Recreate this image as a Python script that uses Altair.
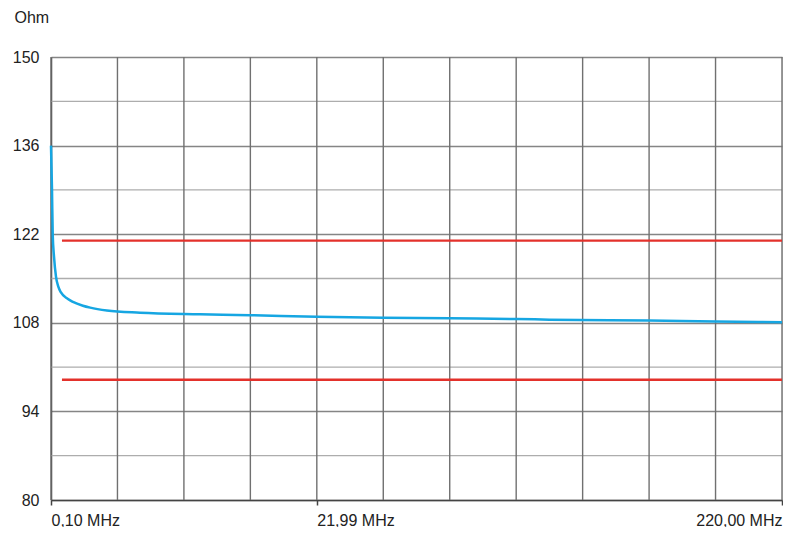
import altair as alt
import pandas as pd

# grid position (0..11 divisions) and impedance (Ohm)
x_pos = [0, 0.015, 0.026, 0.045, 0.075, 0.11, 0.15, 0.25, 0.33, 0.48, 0.59, 0.84,
         1.34, 2.24, 3.0, 4.0, 5.0, 6.0, 7.0, 7.5, 9.0, 10.0, 11.0]
ohm = [136.0, 129.0, 121.9, 118.5, 115.3, 113.7, 112.8, 111.8, 111.3, 110.7, 110.4, 109.95,
       109.6, 109.35, 109.2, 108.95, 108.8, 108.7, 108.6, 108.5, 108.35, 108.2, 108.1]

limit_values = [121, 99]
limit_start = 0.165
limit_end = 11

tick_pos = [0, 4, 11]
tick_labels = ["0,10 MHz", "21,99 MHz", "220,00 MHz"]
vgrid = list(range(0, 12))
y_major = [80, 94, 108, 122, 136, 150]
y_minor = [87, 101, 115, 129, 143]

FONT = "Liberation Sans"

line_df = pd.DataFrame({"x": x_pos, "ohm": ohm})
limits_df = pd.DataFrame({"y": limit_values, "x": [limit_start] * 2, "x2": [limit_end] * 2})
vgrid_df = pd.DataFrame({"x": vgrid})
minor_df = pd.DataFrame({"y": y_minor})

label_map = "{" + ",".join(f"'{p}':'{l}'" for p, l in zip(tick_pos, tick_labels)) + "}"

xscale = alt.Scale(domain=[0, 11], nice=False, zero=False)
yscale = alt.Scale(domain=[80, 150], nice=False, zero=False)

x_axis = alt.Axis(
    values=tick_pos,
    labelExpr=f"{label_map}[datum.value + '']",
    grid=False,
    ticks=True,
    tickSize=5,
    tickColor="#444444",
    tickWidth=1.5,
    domainColor="#444444",
    domainWidth=1.5,
    labelAlign={"condition": {"test": "datum.value == 11", "value": "right"}, "value": "left"},
    labelBaseline="top",
    labelPadding=7,
    labelFontSize=16,
    labelFont=FONT,
    labelColor="#222222",
    title=None,
)

y_axis = alt.Axis(
    values=y_major,
    grid=True,
    gridColor="#858585",
    gridWidth=1.3,
    ticks=False,
    domainColor="#444444",
    domainWidth=1.5,
    labelPadding=12,
    labelFontSize=16,
    labelFont=FONT,
    labelColor="#222222",
    title="Ohm",
    titleAngle=0,
    titleAlign="left",
    titleBaseline="alphabetic",
    titleX=-37,
    titleY=-35,
    titleFont=FONT,
    titleFontSize=16,
    titleFontWeight="normal",
    titleColor="#222222",
)

minor = alt.Chart(minor_df).mark_rule(color="#adadad", strokeWidth=1.3).encode(
    y=alt.Y("y:Q", scale=yscale, axis=y_axis)
)

vlines = alt.Chart(vgrid_df).mark_rule(color="#707070", strokeWidth=1.4).encode(
    x=alt.X("x:Q", scale=xscale, axis=x_axis)
)

limits = alt.Chart(limits_df).mark_rule(color="#e3312b", strokeWidth=2.3).encode(
    x=alt.X("x:Q", scale=xscale),
    x2="x2:Q",
    y=alt.Y("y:Q", scale=yscale),
)

curve = alt.Chart(line_df).mark_line(color="#16a6e2", strokeWidth=2.5, interpolate="monotone").encode(
    x=alt.X("x:Q", scale=xscale),
    y=alt.Y("ohm:Q", scale=yscale),
)

chart = alt.layer(minor, vlines, limits, curve).properties(
    width=731,
    height=443,
    autosize=alt.AutoSizeParams(type="none"),
    padding={"left": 43, "top": 49, "right": 1, "bottom": 27},
).configure_view(stroke=None).configure(background="white")

chart.save("out.html", embed_options={"renderer": "svg", "actions": False})
